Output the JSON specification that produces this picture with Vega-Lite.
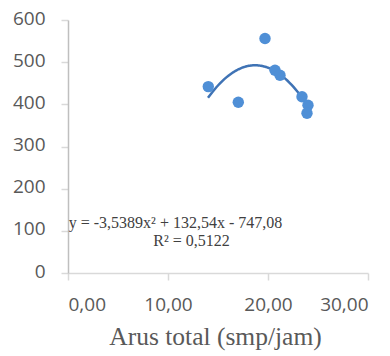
{
  "$schema": "https://vega.github.io/schema/vega-lite/v6.json",
  "autosize": {"type": "none"},
  "width": 300,
  "height": 253,
  "padding": {"left": 68, "top": 20, "right": 22, "bottom": 83},
  "background": "white",
  "config": {"view": {"stroke": null}},
  "datasets": {
    "pts": [
      {"arus": 14.03, "v": 442},
      {"arus": 17.03, "v": 405},
      {"arus": 19.7, "v": 556},
      {"arus": 20.7, "v": 481},
      {"arus": 21.2, "v": 469},
      {"arus": 23.4, "v": 418},
      {"arus": 24.0, "v": 398},
      {"arus": 23.9, "v": 379}
    ],
    "labels": [
      {"arus": 10.75, "v": 107, "t": "y = -3,5389x² + 132,54x - 747,08"},
      {"arus": 12.35, "v": 65, "t": "R² = 0,5122"}
    ]
  },
  "layer": [
    {
      "data": {"name": "pts"},
      "transform": [{"regression": "v", "on": "arus", "method": "poly", "order": 2, "extent": [14.0, 24.2]}],
      "mark": {"type": "line", "color": "#3f73b5", "strokeWidth": 2.5, "clip": true},
      "encoding": {
        "x": {"field": "arus", "type": "quantitative", "scale": {"domain": [0, 30], "nice": false, "zero": false},
          "axis": {"values": [0, 10, 20, 30], "labelExpr": "replace(format(datum.value, '.2f'), '.', ',')",
            "grid": false, "domainColor": "#d9d9d9", "domainWidth": 1.5, "tickColor": "#d9d9d9", "tickWidth": 1.5, "tickSize": 7,
            "labelPadding": 15, "labelFont": "Open Sans", "labelFontSize": 19, "labelColor": "#595959",
            "title": "Arus total (smp/jam)", "titleFont": "Liberation Serif", "titleFontSize": 25.5, "titleFontWeight": "normal",
            "titleColor": "#595959", "titleBaseline": "alphabetic", "titleY": 71, "titleX": 147}},
        "y": {"field": "v", "type": "quantitative", "scale": {"domain": [0, 600], "nice": false},
          "axis": {"values": [0, 100, 200, 300, 400, 500, 600], "grid": false, "domainColor": "#bfbfbf", "domainWidth": 1.5,
            "tickColor": "#d9d9d9", "tickWidth": 1.5, "tickSize": 7, "labelPadding": 16, "labelOffset": -2,
            "labelFont": "Open Sans", "labelFontSize": 19, "labelColor": "#595959", "title": null}}
      }
    },
    {
      "data": {"name": "pts"},
      "mark": {"type": "circle", "color": "#4f8fd6", "opacity": 1, "size": 130},
      "encoding": {
        "x": {"field": "arus", "type": "quantitative"},
        "y": {"field": "v", "type": "quantitative"}
      }
    },
    {
      "data": {"name": "labels"},
      "mark": {"type": "text", "font": "Liberation Serif", "fontSize": 16, "color": "#404040", "align": "center", "baseline": "alphabetic"},
      "encoding": {
        "x": {"field": "arus", "type": "quantitative"},
        "y": {"field": "v", "type": "quantitative"},
        "text": {"field": "t"}
      }
    }
  ]
}
